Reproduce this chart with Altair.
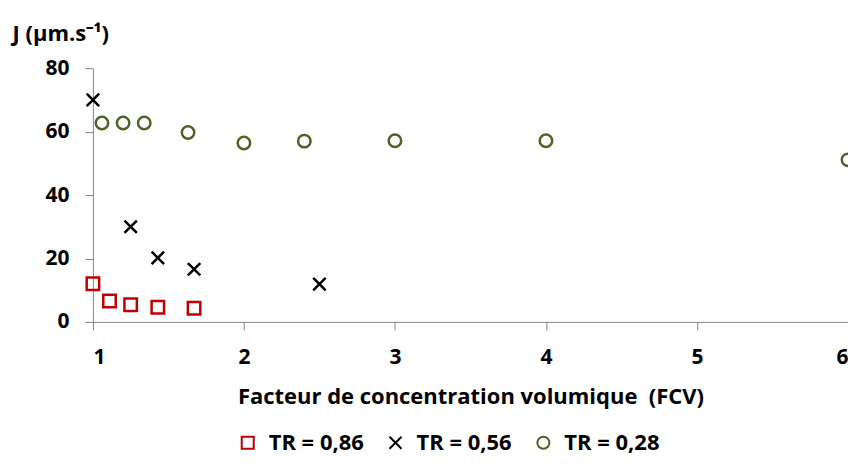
import altair as alt
import pandas as pd

# Data
sq_x = [1.0, 1.11, 1.25, 1.43, 1.67]
sq_y = [12.0, 6.6, 5.4, 4.6, 4.3]
cr_x = [1.0, 1.25, 1.43, 1.67, 2.5]
cr_y = [70.0, 30.0, 20.2, 16.6, 11.9]
ci_x = [1.06, 1.2, 1.34, 1.63, 2.0, 2.4, 3.0, 4.0, 6.0]
ci_y = [62.7, 62.7, 62.7, 59.7, 56.4, 57.0, 57.1, 57.1, 51.1]

series = ["TR = 0,86", "TR = 0,56", "TR = 0,28"]
colors = ["#C00000", "#000000", "#4F6228"]
shapes = ["square", "M-1,-1L1,1M-1,1L1,-1", "circle"]
x_ticks = [1, 2, 3, 4, 5, 6]
y_ticks = [0, 20, 40, 60, 80]

rows = []
for xs, ys, name in [(sq_x, sq_y, series[0]), (cr_x, cr_y, series[1]), (ci_x, ci_y, series[2])]:
    for a, b in zip(xs, ys):
        rows.append({"FCV": a, "J": b, "serie": name})
df = pd.DataFrame(rows)

FONT = "Open Sans"

chart = alt.Chart(df).mark_point(
    filled=False, size=155, strokeWidth=2.5, opacity=1
).encode(
    x=alt.X(
        "FCV:Q",
        scale=alt.Scale(domain=[1, 6], nice=False, zero=False),
        axis=alt.Axis(
            values=x_ticks,
            title="Facteur de concentration volumique \u00a0(FCV)",
            labelPadding=17,
            titlePadding=19,
            format="d",
        ),
    ),
    y=alt.Y(
        "J:Q",
        scale=alt.Scale(domain=[0, 80], nice=False),
        axis=alt.Axis(
            values=y_ticks,
            title="J (µm.s⁻¹)",
            titleAngle=0,
            titleX=-81,
            titleY=-35,
            titleAlign="left",
            titleBaseline="middle",
            labelPadding=16,
        ),
    ),
    color=alt.Color("serie:N", scale=alt.Scale(domain=series, range=colors), title=None),
    shape=alt.Shape("serie:N", scale=alt.Scale(domain=series, range=shapes), title=None),
).properties(
    width=756,
    height=254,
    autosize=alt.AutoSizeParams(type="none"),
    padding={"left": 85, "top": 60, "right": 0, "bottom": 136},
).configure_view(
    stroke=None
).configure_axis(
    grid=False,
    domainColor="#868686",
    tickColor="#868686",
    tickSize=8,
    domainWidth=1,
    labelFont=FONT,
    labelFontWeight="bold",
    labelFontSize=21,
    labelColor="#000000",
    titleFont=FONT,
    titleFontWeight="bold",
    titleFontSize=22,
    titleColor="#000000",
).configure_legend(
    orient="none",
    legendX=144,
    legendY=364,
    direction="horizontal",
    symbolSize=144,
    symbolStrokeWidth=2,
    labelFont=FONT,
    labelFontWeight="bold",
    labelFontSize=22,
    labelColor="#000000",
    labelOffset=10,
    columnPadding=20,
)

chart.save("out.html", embed_options={"renderer": "svg", "actions": False})
